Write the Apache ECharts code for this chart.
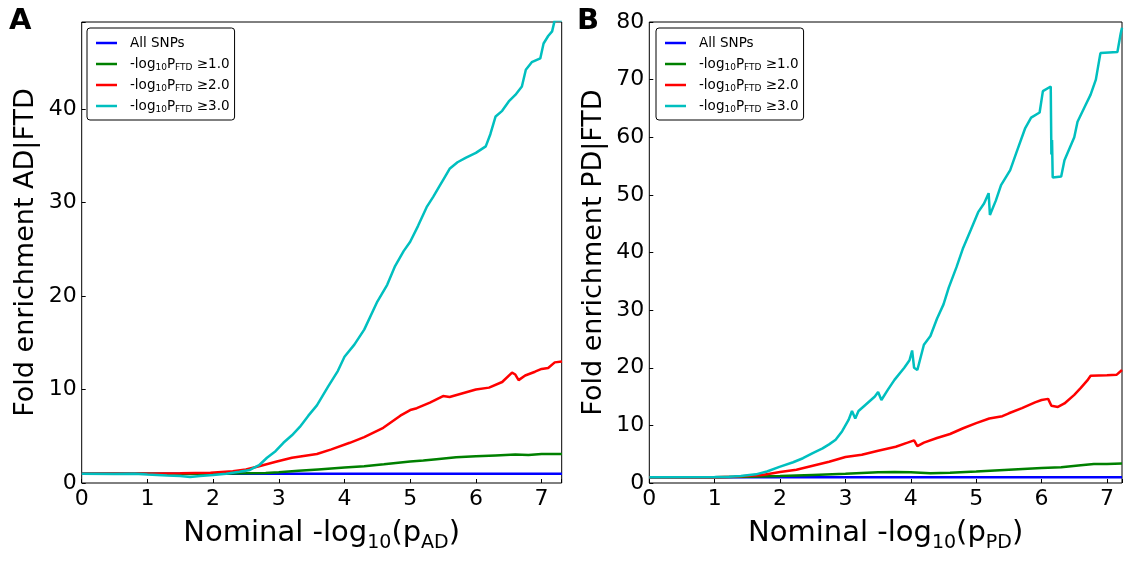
<!DOCTYPE html>
<html><head><meta charset="utf-8">
<script src="https://cdn.jsdelivr.net/npm/echarts@6/dist/echarts.min.js"></script>
<style>html,body{margin:0;padding:0;background:#fff}#c{width:1125px;height:563px}</style>
</head><body><div id="c"></div>
<script>
// ---- labels ----
const seriesNames = ['All SNPs', '-log10PFTD ≥1.0', '-log10PFTD ≥2.0', '-log10PFTD ≥3.0'];
const thresholds = ['', '1.0', '2.0', '3.0'];
const panelLetters = ['A', 'B'];
const yNames = ['Fold enrichment AD|FTD', 'Fold enrichment PD|FTD'];
const xSubs = ['AD', 'PD'];
const xTicks = [0, 1, 2, 3, 4, 5, 6, 7];
const adYTicks = [0, 10, 20, 30, 40];
const pdYTicks = [0, 10, 20, 30, 40, 50, 60, 70, 80];
const adXMax = 7.306, adYMax = 49.3;
const pdXMax = 7.23, pdYMax = 80;

// ---- Panel A (AD|FTD) ----
const adAllX = [0, 7.31];
const adAllY = [1.0, 1.0];
const adT1X = [0, 0.5, 1, 1.5, 2, 2.5, 2.8, 3, 3.3, 3.6, 4, 4.3, 4.6, 5, 5.2, 5.4, 5.7, 6, 6.3, 6.6, 6.8, 7, 7.31];
const adT1Y = [1.0, 1.0, 1.0, 0.95, 1.0, 1.03, 1.08, 1.15, 1.3, 1.45, 1.65, 1.8, 2.0, 2.3, 2.4, 2.55, 2.75, 2.85, 2.95, 3.05, 3.0, 3.1, 3.1];
const adT2X = [0, 0.5, 1, 1.5, 1.96, 2.3, 2.5, 2.7, 2.97, 3.2, 3.58, 3.8, 4.08, 4.3, 4.59, 4.85, 5.0, 5.1, 5.3, 5.5, 5.6, 5.8, 6.0, 6.2, 6.4, 6.55, 6.6, 6.65, 6.75, 6.9, 7.0, 7.1, 7.2, 7.31];
const adT2Y = [1.0, 1.0, 1.0, 1.05, 1.1, 1.25, 1.45, 1.8, 2.3, 2.7, 3.1, 3.6, 4.3, 4.9, 5.9, 7.2, 7.8, 8.0, 8.6, 9.3, 9.2, 9.6, 10.0, 10.2, 10.8, 11.8, 11.6, 11.0, 11.5, 11.9, 12.2, 12.3, 12.9, 13.0];
const adT3X = [0, 0.5, 0.8, 1.0, 1.3, 1.5, 1.65, 1.8, 2.0, 2.2, 2.4, 2.56, 2.7, 2.82, 2.95, 3.07, 3.2, 3.32, 3.45, 3.58, 3.75, 3.9, 4.0, 4.15, 4.3, 4.5, 4.65, 4.77, 4.9, 5.0, 5.12, 5.25, 5.35, 5.45, 5.5, 5.6, 5.72, 5.85, 6.0, 6.15, 6.22, 6.3, 6.4, 6.5, 6.6, 6.7, 6.76, 6.85, 6.98, 7.03, 7.1, 7.16, 7.2, 7.31];
const adT3Y = [1.0, 0.95, 1.0, 0.9, 0.8, 0.75, 0.65, 0.75, 0.85, 1.0, 1.2, 1.4, 1.9, 2.7, 3.4, 4.3, 5.1, 6.0, 7.2, 8.3, 10.3, 12.0, 13.5, 14.8, 16.4, 19.4, 21.2, 23.2, 24.8, 25.8, 27.5, 29.5, 30.6, 31.8, 32.4, 33.6, 34.3, 34.8, 35.3, 36.0, 37.3, 39.2, 39.8, 40.8, 41.5, 42.4, 44.2, 45.0, 45.4, 47.0, 47.8, 48.3, 49.5, 49.5];

// ---- Panel B (PD|FTD) ----
const pdAllX = [0, 7.23];
const pdAllY = [1.0, 1.0];
const pdT1X = [0, 1.0, 1.5, 2.0, 2.5, 3.0, 3.5, 3.75, 4.0, 4.3, 4.6, 5.0, 5.5, 6.0, 6.3, 6.6, 6.8, 7.0, 7.23];
const pdT1Y = [1.0, 1.0, 1.1, 1.2, 1.4, 1.6, 1.85, 1.9, 1.85, 1.7, 1.8, 2.0, 2.3, 2.6, 2.75, 3.1, 3.3, 3.3, 3.4];
const pdT2X = [0, 1.0, 1.3, 1.73, 2.0, 2.25, 2.5, 2.75, 3.0, 3.25, 3.5, 3.77, 3.95, 4.05, 4.1, 4.2, 4.4, 4.6, 4.8, 5.0, 5.2, 5.4, 5.5, 5.7, 5.9, 6.0, 6.1, 6.15, 6.25, 6.35, 6.5, 6.6, 6.7, 6.75, 7.0, 7.15, 7.23];
const pdT2Y = [1.0, 1.0, 1.1, 1.4, 1.9, 2.3, 3.0, 3.7, 4.5, 4.9, 5.6, 6.3, 7.0, 7.4, 6.4, 7.0, 7.8, 8.5, 9.5, 10.4, 11.2, 11.6, 12.1, 13.0, 14.0, 14.4, 14.6, 13.4, 13.2, 13.8, 15.3, 16.5, 17.8, 18.6, 18.7, 18.8, 19.6];
const pdT3X = [0, 1.0, 1.22, 1.4, 1.63, 1.8, 1.99, 2.2, 2.35, 2.5, 2.65, 2.75, 2.85, 2.95, 3.05, 3.1, 3.15, 3.2, 3.3, 3.45, 3.5, 3.55, 3.65, 3.75, 3.9, 3.98, 4.02, 4.05, 4.1, 4.2, 4.3, 4.4, 4.5, 4.58, 4.7, 4.8, 4.92, 5.03, 5.12, 5.19, 5.21, 5.3, 5.38, 5.52, 5.62, 5.75, 5.84, 5.97, 6.02, 6.14, 6.15, 6.16, 6.17, 6.3, 6.35, 6.5, 6.55, 6.66, 6.75, 6.83, 6.9, 7.16, 7.21, 7.23];
const pdT3Y = [1.0, 1.05, 1.1, 1.2, 1.5, 2.0, 2.8, 3.6, 4.3, 5.2, 6.0, 6.7, 7.5, 9.0, 11.0, 12.5, 11.2, 12.5, 13.5, 15.0, 15.8, 14.4, 16.2, 17.9, 20.0, 21.3, 23.0, 20.0, 19.6, 24.0, 25.5, 28.5, 31.0, 33.9, 37.5, 40.8, 44.0, 47.0, 48.5, 50.3, 46.5, 49.0, 51.7, 54.3, 57.5, 61.6, 63.4, 64.3, 68.0, 68.8, 57.0, 59.5, 53.0, 53.2, 56.0, 60.0, 62.7, 65.3, 67.4, 70.0, 74.6, 74.8, 78.0, 79.0];

const colors = ['#0000ff', '#008000', '#ff0000', '#00bfbf'];
const pairs = (xs, ys) => xs.map((x, i) => [x, ys[i]]);
const panelData = [
  [pairs(adAllX, adAllY), pairs(adT1X, adT1Y), pairs(adT2X, adT2Y), pairs(adT3X, adT3Y)],
  [pairs(pdAllX, pdAllY), pairs(pdT1X, pdT1Y), pairs(pdT2X, pdT2Y), pairs(pdT3X, pdT3Y)]
];

const FONT = 'DejaVu Sans';
const grids = [
  {left: 81.7, top: 22, width: 480, height: 461},
  {left: 649.3, top: 22, width: 475, height: 461}
].map(g => Object.assign(g, {show: true, borderColor: '#000', borderWidth: 1, backgroundColor: 'transparent'}));

const xMaxes = [adXMax, pdXMax], yMaxes = [adYMax, pdYMax], yTickSets = [adYTicks, pdYTicks];

const xAxes = [0, 1].map(i => ({
  type: 'value', gridIndex: i, min: 0, max: xMaxes[i], interval: 1,
  axisLine: {show: false}, splitLine: {show: false},
  axisTick: {inside: true, length: 4, lineStyle: {color: '#000'}},
  axisLabel: {fontFamily: FONT, fontSize: 22, color: '#000', margin: 5,
    formatter: v => xTicks.includes(v) ? String(v) : ''},
  name: 'Nominal -log{s|10}(p{s|' + xSubs[i] + '})', nameLocation: 'middle', nameGap: 30,
  nameTextStyle: {fontFamily: FONT, fontSize: 29, color: '#000', lineHeight: 38,
    rich: {s: {fontFamily: FONT, fontSize: 19, color: '#000', lineHeight: 10, verticalAlign: 'bottom'}}}
}));
const yAxes = [0, 1].map(i => ({
  type: 'value', gridIndex: i, min: 0, max: yMaxes[i], interval: 10,
  axisLine: {show: false}, splitLine: {show: false},
  axisTick: {inside: true, length: 4, lineStyle: {color: '#000'}},
  axisLabel: {fontFamily: FONT, fontSize: 22, color: '#000', margin: 5,
    formatter: v => yTickSets[i].includes(v) ? String(v) : ''},
  name: yNames[i], nameLocation: 'middle', nameGap: 42, nameRotate: 90,
  nameTextStyle: {fontFamily: FONT, fontSize: 27, color: '#000'}
}));

const legendFmt = name => {
  const k = seriesNames.indexOf(name);
  return k === 0 ? name : '-log{s|10}P{s|FTD} ≥' + thresholds[k];
};
const legends = [87, 656].map(left => ({
  orient: 'vertical', left: left, top: 28,
  padding: [7, 5, 6, 9], itemWidth: 21, itemHeight: 2.5, itemGap: 5, icon: 'rect',
  borderColor: '#000', borderWidth: 1, borderRadius: 3, backgroundColor: '#fff',
  data: seriesNames, formatter: legendFmt, selectedMode: false,
  textStyle: {fontFamily: FONT, fontSize: 13.5, color: '#000', lineHeight: 16, padding: [0, 0, 0, 8],
    rich: {s: {fontFamily: FONT, fontSize: 9, color: '#000', lineHeight: 6, verticalAlign: 'bottom'}}}
}));

const series = [];
[0, 1].forEach(p => {
  panelData[p].forEach((d, k) => {
    series.push({
      type: 'line', name: seriesNames[k], xAxisIndex: p, yAxisIndex: p,
      data: d, symbol: 'none', showSymbol: false, animation: false, clip: true,
      lineStyle: {color: colors[k], width: 2.5}, itemStyle: {color: colors[k]}, z: 2 + k
    });
  });
});

const chart = echarts.init(document.getElementById('c'), null, {renderer: 'canvas'});
chart.setOption({
  animation: false,
  backgroundColor: '#fff',
  color: colors,
  grid: grids, xAxis: xAxes, yAxis: yAxes, legend: legends, series: series,
  graphic: [
    {type: 'text', left: 9, top: 7, style: {text: panelLetters[0], font: 'bold 29px "DejaVu Sans"', fill: '#000'}},
    {type: 'text', left: 577, top: 7, style: {text: panelLetters[1], font: 'bold 29px "DejaVu Sans"', fill: '#000'}}
  ]
});
</script></body></html>
